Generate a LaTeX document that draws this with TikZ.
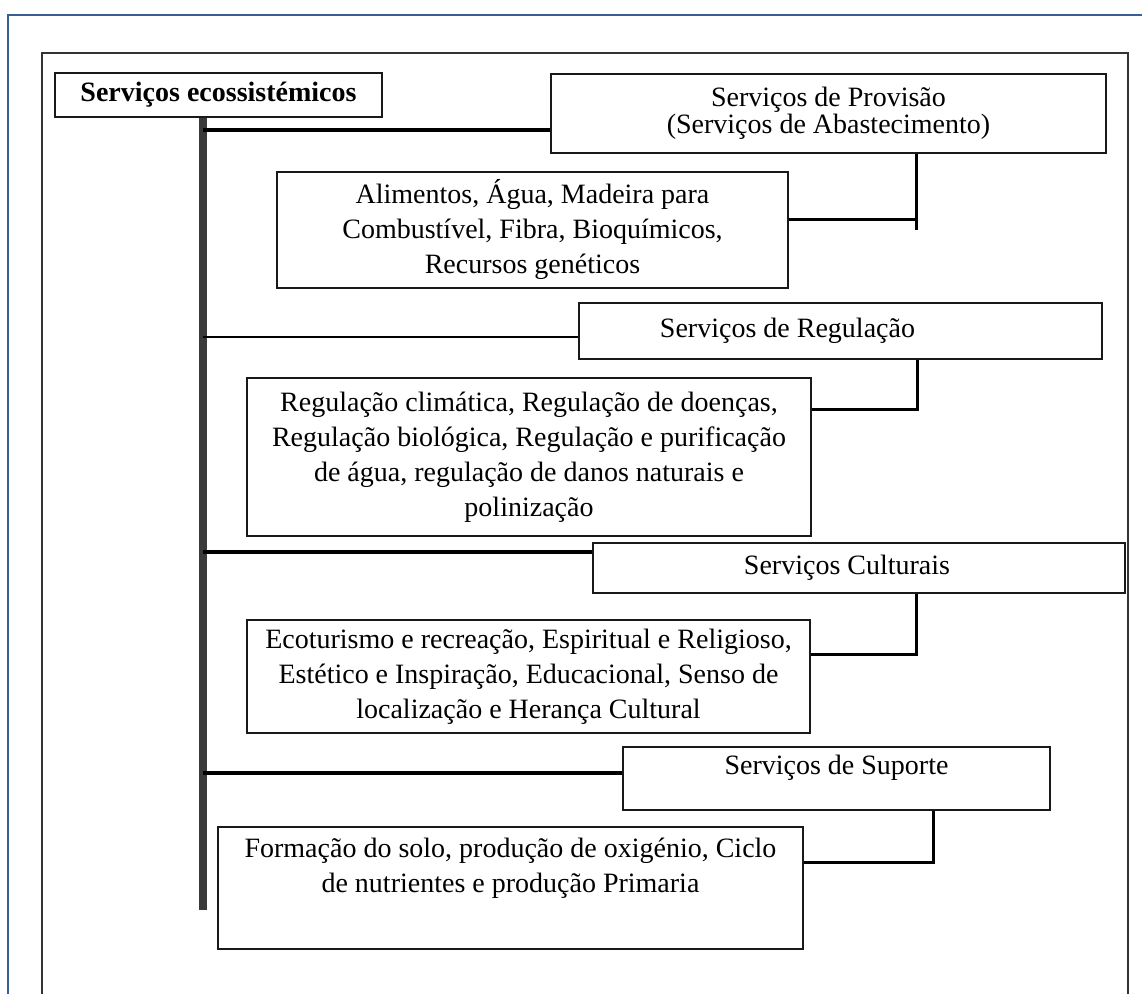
\documentclass[tikz,border=0pt]{standalone}
\usepackage{fontspec}
\setmainfont{Liberation Serif}

\definecolor{frameblue}{RGB}{55,96,150}
\definecolor{trunkgray}{RGB}{58,58,58}

\tikzset{
  box/.style={draw=black!90, line width=1pt, inner sep=2pt, align=center,
    font=\fontsize{14}{17.5}\selectfont},
  branch/.style={line width=1.8pt},
  link/.style={line width=1.5pt},
}

\begin{document}
\begin{tikzpicture}[x=0.5pt, y=-0.5pt]
    \useasboundingbox (0,0) rectangle (1142,994);

    % Page frames
    \draw[frameblue, line width=1.2pt] (8,994) -- (8,15) -- (1142,15);
    \draw[black!80, line width=1pt] (42,994) -- (42,53) -- (1128,53) -- (1128,994);

    % Root
    \node[box, font=\fontsize{14}{17.5}\selectfont\bfseries, minimum width=163.5pt, minimum height=22pt] (Root) at (218.5,95) {Serviços ecossistémicos};

    % Service groups
    \node[box, font=\fontsize{14}{13.5}\selectfont, minimum width=277.5pt, minimum height=39.5pt] (Provisao) at (828.5,113.5) {Serviços de Provisão\\(Serviços de Abastecimento)};
    \node[box, minimum width=261.5pt, minimum height=28pt] (Regulacao) at (840.5,331) {\hspace*{-53pt}Serviços de Regulação};
    \node[box, minimum width=266pt, minimum height=25pt] (Cultural) at (859,568) {\hspace*{-12pt}Serviços Culturais};
    \node[box, text height=9pt, text depth=13pt, minimum width=213.5pt, minimum height=31.5pt] (Suporte) at (836.5,778.5) {Serviços de Suporte};

    % Items of each group
    \node[box, minimum width=255.5pt, minimum height=58pt] (ProvisaoItems) at (532.5,230) {Alimentos, Água, Madeira para\\Combustível, Fibra, Bioquímicos,\\Recursos genéticos};
    \node[box, minimum width=282pt, minimum height=79pt] (RegulacaoItems) at (529,457) {Regulação climática, Regulação de doenças,\\Regulação biológica, Regulação e purificação\\de água, regulação de danos naturais e\\polinização};
    \node[box, minimum width=281.5pt, minimum height=56.5pt] (CulturalItems) at (528.5,676.5) {Ecoturismo e recreação, Espiritual e Religioso,\\Estético e Inspiração, Educacional, Senso de\\localização e Herança Cultural};
    \node[box, minimum width=292.5pt, minimum height=61pt] (SuporteItems) at (510.5,888) {Formação do solo, produção de oxigénio, Ciclo\\de nutrientes e produção Primaria\\\strut};

    % Trunk
    \coordinate (TrunkEnd) at (203,910);
    \draw[trunkgray, line width=4pt] (TrunkEnd |- Root.south) -- (TrunkEnd);

    % Branches off the trunk
    \coordinate (B1) at (203,130);
    \coordinate (B2) at (203,337);
    \coordinate (B3) at (203,552);
    \coordinate (B4) at (203,773);
    \draw[branch] (B1) -- (B1 -| Provisao.west);
    \draw[line width=1.2pt] (B2) -- (B2 -| Regulacao.west);
    \draw[branch] (B3) -- (B3 -| Cultural.west);
    \draw[branch] (B4) -- (B4 -| Suporte.west);

    % Group to items
    \coordinate (K1) at (916,220);
    \coordinate (K2) at (917,410);
    \coordinate (K3) at (916,655);
    \coordinate (K4) at (933,862);
    \draw[link] (K1 |- Provisao.south) -- ++(0,76);
    \draw[link] (K1) -- (K1 -| ProvisaoItems.east);
    \draw[link] (K2 |- Regulacao.south) -- (K2) -- (K2 -| RegulacaoItems.east);
    \draw[link] (K3 |- Cultural.south) -- (K3) -- (K3 -| CulturalItems.east);
    \draw[link] (K4 |- Suporte.south) -- (K4) -- (K4 -| SuporteItems.east);

\end{tikzpicture}
\end{document}
